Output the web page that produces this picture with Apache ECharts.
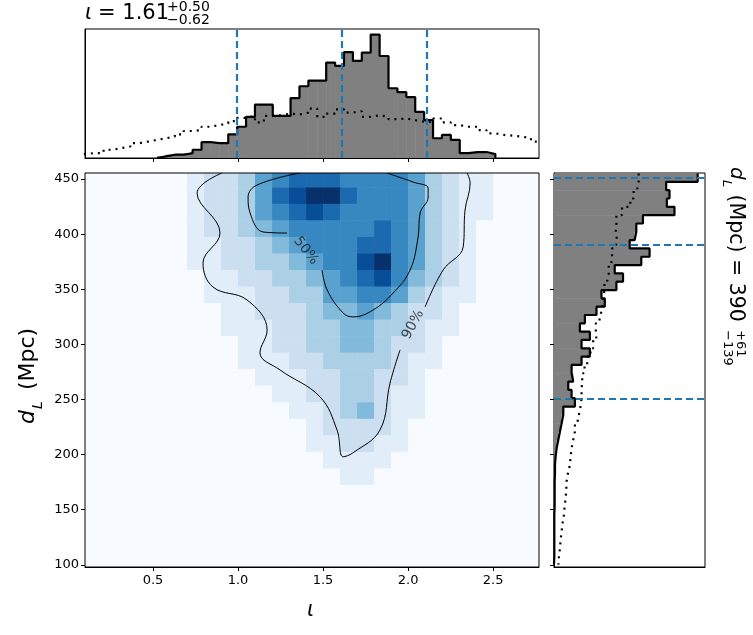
<!DOCTYPE html>
<html><head><meta charset="utf-8">
<script src="https://cdn.jsdelivr.net/npm/echarts@6/dist/echarts.min.js"></script>
<style>html,body{margin:0;background:#fff}#c{width:753px;height:635px}</style>
</head><body><div id="c"></div>
<script>
// density grid: columns iota 0.15..2.75 (step 0.1), rows dL 450 down to 105 (step 15), digits 0-9
var gridX0 = 0.15, gridDx = 0.1, gridY0 = 450, gridDy = 15;
var densityRows = [
  "000000122356777666653211000",
  "000000122357899766653211000",
  "000000122356787666653211000",
  "000000122345666667653210000",
  "000000112234566677653210000",
  "000000112233456689653210000",
  "000000011223345678643210000",
  "000000011122335566532110000",
  "000000001122234454322100000",
  "000000001112233443321100000",
  "000000000112233443221000000",
  "000000000111223333211000000",
  "000000000011122332210000000",
  "000000000001122332110000000",
  "000000000000112342110000000",
  "000000000000012222100000000",
  "000000000000011221100000000",
  "000000000000001111000000000",
  "000000000000000110000000000",
  "000000000000000000000000000",
  "000000000000000000000000000",
  "000000000000000000000000000",
  "000000000000000000000000000",
  "000000000000000000000000000"
];
// contours [iota, dL]
var contour50 = [[1.365,455.5],[1.112,444.6],[1.059,433.7],[1.071,419.2],[1.147,402],[1.288,401]];
var contour50b = [[1.494,367.5],[1.524,349.4],[1.618,328.5],[1.676,324.9],[1.794,331.2],[1.912,346.6],[2.012,367.5],[2.059,397.4],[2.071,419.2],[2.118,433.7],[2.118,441.8],[2.029,447.3],[1.876,455.5]];
var contour90 = [[0.906,455.5],[0.759,437.3],[0.894,401],[0.794,373.8],[0.853,352],[1.053,340.3],[1.171,313],[1.129,292.3],[1.247,276.8],[1.482,252.4],[1.582,222.4],[1.618,198],[1.676,201.6],[1.835,222.4],[1.894,265],[1.953,295]];
var contour90b = [[2.1,334],[2.206,367.5],[2.324,388.4],[2.335,421.9],[2.365,446.4],[2.347,455.5]];
// iota histogram: bin width pi/60, first bin index 10
var iotaBinW = Math.PI / 60, iotaFirstBin = 10;
var iotaCounts = [5,10,10,15,25,48,45,45,72,95,125,162,162,128,128,182,218,235,235,290,280,322,295,320,375,310,212,200,185,140,115,60,70,55,15,18,18,12];
var iotaPriorFirstBin = 1;
var iotaPrior = [12,15,15,25,30,35,45,50,55,60,65,72,82,85,95,100,105,112,122,128,108,128,130,135,132,138,150,125,135,148,138,142,125,130,125,118,120,115,110,110,120,108,100,95,95,85,75,70,68,65,60,50];
var iotaLines = [0.99, 1.61, 2.11];
// dL histogram: bins from top (455) downward, width 7.55
var dlTop = 455, dlBinW = 7.55;
var dlCounts = [433,338,348,340,363,268,248,243,228,288,263,183,208,188,143,153,128,93,78,108,83,108,83,53,58,43,53,63,28,23,18,13,8,5,3,3,2,2,2,2,1,1,1,1,1,1,0];
var dlPrior = [255,250,240,230,205,188,186,190,185,175,172,165,160,152,148,146,140,135,126,128,118,110,100,92,85,83,83,80,75,70,63,58,53,50,48,42,38,37,35,32,30,26,23,20,18,15,13];
var dlLines = [451, 390, 251];
var xTicks = [0.5, 1.0, 1.5, 2.0, 2.5];
var yTicks = [100, 150, 200, 250, 300, 350, 400, 450];

var blues = [[247,251,255],[222,235,247],[198,219,239],[158,202,225],[107,174,214],[66,146,198],[33,113,181],[8,81,156],[8,48,107]];
function bluesColor(t) {
  t = Math.max(0, Math.min(1, t)) * 8;
  var i = Math.min(7, Math.floor(t)), f = t - i, a = blues[i], b = blues[i + 1];
  return 'rgb(' + [0,1,2].map(function (k) { return Math.round(a[k] + (b[k] - a[k]) * f); }).join(',') + ')';
}

var cells = [];
densityRows.forEach(function (row, r) {
  for (var c = 0; c < row.length; c++) cells.push([gridX0 + c * gridDx, gridY0 - r * gridDy, +row[c]]);
});

var iotaRects = [], iotaStep = [], iotaPriorStep = [];
iotaCounts.forEach(function (v, i) {
  var lo = (iotaFirstBin + i) * iotaBinW, hi = lo + iotaBinW;
  iotaRects.push([lo, hi, v]);
  iotaStep.push([lo, v], [hi, v]);
});
iotaStep.unshift([iotaFirstBin * iotaBinW, 0]);
iotaStep.push([(iotaFirstBin + iotaCounts.length) * iotaBinW, 0]);
iotaPrior.forEach(function (v, i) {
  var lo = (iotaPriorFirstBin + i) * iotaBinW;
  iotaPriorStep.push([lo, v], [lo + iotaBinW, v]);
});

var dlRects = [], dlStep = [], dlPriorStep = [];
dlCounts.forEach(function (v, i) {
  var hi = dlTop - i * dlBinW, lo = hi - dlBinW;
  dlRects.push([lo, hi, v]);
  dlStep.push([v, hi], [v, lo]);
});
dlPrior.forEach(function (v, i) {
  var hi = dlTop - i * dlBinW;
  dlPriorStep.push([v, hi], [v, hi - dlBinW]);
});

var font = 'DejaVu Sans';
var black = '#000';
function frameAxis(extra) {
  return Object.assign({
    axisLine: {show: true, onZero: false, lineStyle: {color: black, width: 1}},
    axisTick: {show: false}, axisLabel: {show: false}, splitLine: {show: false}
  }, extra);
}
var lineCommon = {type: 'line', symbol: 'none', silent: true, animation: false};
function contourSeries(d) {
  return Object.assign({xAxisIndex: 0, yAxisIndex: 0, data: d, smooth: 0.4, lineStyle: {color: black, width: 1}, z: 5}, lineCommon);
}
function txt(x, y, s, size, rot, italic) {
  return {type: 'text', x: x, y: y, rotation: rot || 0, z: 20,
    style: {text: s, fontSize: size, fontFamily: font, fontStyle: italic ? 'italic' : 'normal', fill: black}};
}

var chart = echarts.init(document.getElementById('c'), null, {renderer: 'canvas'});
chart.setOption({
  animation: false,
  textStyle: {fontFamily: font},
  grid: [
    {left: 85, top: 173, width: 454, height: 394, show: true, borderColor: black, borderWidth: 1, z: 10},
    {left: 85, top: 29, width: 454, height: 129, show: true, borderColor: black, borderWidth: 1},
    {left: 554, top: 173, width: 151, height: 394, show: true, borderColor: black, borderWidth: 1}
  ],
  xAxis: [
    frameAxis({gridIndex: 0, type: 'value', min: 0.1, max: 2.77,
      axisTick: {show: true, customValues: xTicks, length: 4, lineStyle: {color: black}},
      axisLabel: {show: true, customValues: xTicks, color: black, fontSize: 13, margin: 7, formatter: function (v) { return v.toFixed(1); }}}),
    frameAxis({gridIndex: 1, type: 'value', min: 0.1, max: 2.77,
      axisTick: {show: true, customValues: xTicks, length: 4, lineStyle: {color: black}}}),
    frameAxis({gridIndex: 2, type: 'value', min: 0, max: 455})
  ],
  yAxis: [
    frameAxis({gridIndex: 0, type: 'value', min: 98, max: 455.5,
      axisTick: {show: true, customValues: yTicks, length: 4, lineStyle: {color: black}},
      axisLabel: {show: true, customValues: yTicks, color: black, fontSize: 13, margin: 6}}),
    frameAxis({gridIndex: 1, type: 'value', min: 0, max: 392}),
    frameAxis({gridIndex: 2, type: 'value', min: 98, max: 455.5,
      axisTick: {show: true, customValues: yTicks, length: 4, lineStyle: {color: black}}})
  ],
  series: [
    {type: 'custom', xAxisIndex: 0, yAxisIndex: 0, data: cells, silent: true, clip: true,
      renderItem: function (params, api) {
        var x = api.value(0), y = api.value(1);
        var p0 = api.coord([x - gridDx / 2, y + gridDy / 2]), p1 = api.coord([x + gridDx / 2, y - gridDy / 2]);
        var rect = echarts.graphic.clipRectByRect({x: p0[0], y: p0[1], width: p1[0] - p0[0] + 0.5, height: p1[1] - p0[1] + 0.5},
          {x: params.coordSys.x, y: params.coordSys.y, width: params.coordSys.width, height: params.coordSys.height});
        return rect && {type: 'rect', shape: rect, style: {fill: bluesColor(api.value(2) / 9)}};
      }},
    contourSeries(contour50), contourSeries(contour50b), contourSeries(contour90), contourSeries(contour90b),
    {type: 'scatter', xAxisIndex: 0, yAxisIndex: 0, symbolSize: 0, silent: true, z: 6,
      data: [{value: [1.40, 385], label: {formatter: '50%', rotate: -52}}, {value: [2.03, 318], label: {formatter: '90%', rotate: 62}}],
      label: {show: true, position: 'inside', color: '#222', fontSize: 14}},
    {type: 'custom', xAxisIndex: 1, yAxisIndex: 1, data: iotaRects, silent: true,
      renderItem: function (params, api) {
        var p0 = api.coord([api.value(0), api.value(2)]), p1 = api.coord([api.value(1), 0]);
        return {type: 'rect', shape: {x: p0[0], y: p0[1], width: p1[0] - p0[0] + 0.5, height: p1[1] - p0[1]}, style: {fill: '#808080'}};
      }},
    Object.assign({xAxisIndex: 1, yAxisIndex: 1, data: iotaStep, lineStyle: {color: black, width: 2.2}, z: 4}, lineCommon),
    Object.assign({xAxisIndex: 1, yAxisIndex: 1, data: iotaPriorStep, lineStyle: {color: black, width: 2.2, type: [2, 5]}, z: 4}, lineCommon),
    Object.assign({xAxisIndex: 1, yAxisIndex: 1, data: [], z: 5,
      markLine: {silent: true, symbol: 'none', label: {show: false}, lineStyle: {color: '#1f77b4', width: 2.2, type: [7, 4]},
        data: iotaLines.map(function (v) { return {xAxis: v}; })}}, lineCommon),
    {type: 'custom', xAxisIndex: 2, yAxisIndex: 2, data: dlRects, silent: true,
      renderItem: function (params, api) {
        var p0 = api.coord([0, api.value(1)]), p1 = api.coord([api.value(2), api.value(0)]);
        return {type: 'rect', shape: {x: p0[0], y: p0[1], width: p1[0] - p0[0], height: p1[1] - p0[1] + 0.5}, style: {fill: '#808080'}};
      }},
    Object.assign({xAxisIndex: 2, yAxisIndex: 2, data: dlStep, lineStyle: {color: black, width: 2.2}, z: 4}, lineCommon),
    Object.assign({xAxisIndex: 2, yAxisIndex: 2, data: dlPriorStep, lineStyle: {color: black, width: 2.2, type: [2, 5]}, z: 4}, lineCommon),
    Object.assign({xAxisIndex: 2, yAxisIndex: 2, data: [], z: 5,
      markLine: {silent: true, symbol: 'none', label: {show: false}, lineStyle: {color: '#1f77b4', width: 2.2, type: [7, 4]},
        data: dlLines.map(function (v) { return {yAxis: v}; })}}, lineCommon)
  ],
  graphic: [
    // top title
    txt(85, 3, 'ι', 21, 0, true),
    txt(98, 3, '= 1.61', 21),
    txt(167, 0, '+0.50', 14),
    txt(167, 13, '−0.62', 14),
    // x axis title
    txt(307, 600, 'ι', 21, 0, true),
    // left y title (reads bottom to top)
    txt(17, 424, 'd', 22, Math.PI / 2, true),
    txt(31, 409, 'L', 14, Math.PI / 2, true),
    txt(17, 397, ' (Mpc)', 22, Math.PI / 2),
    // right title (reads top to bottom)
    txt(746, 167, 'd', 20, -Math.PI / 2, true),
    txt(733, 180, 'L', 13, -Math.PI / 2, true),
    txt(746, 188, ' (Mpc) = 390', 20.5, -Math.PI / 2),
    txt(747, 330, '+61', 13, -Math.PI / 2),
    txt(734, 330, '−139', 13, -Math.PI / 2)
  ]
});
</script></body></html>
